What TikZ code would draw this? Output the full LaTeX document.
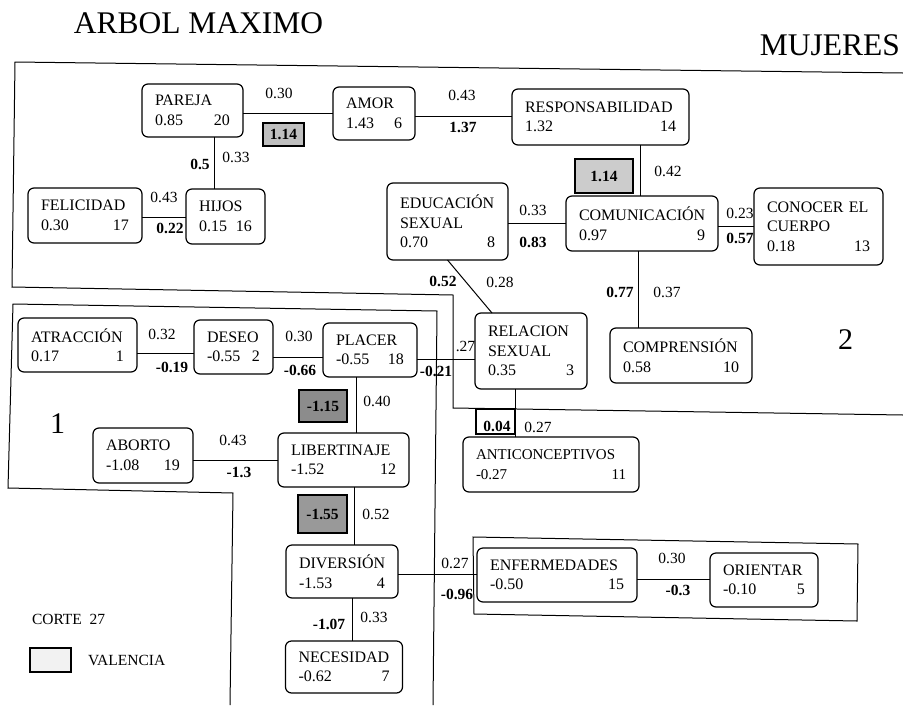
\documentclass[tikz,border=0pt]{standalone}
\usepackage{fontspec}
\setmainfont{Liberation Serif}
\begin{document}
\begin{tikzpicture}[x=1pt,y=-1pt,
  every node/.style={inner sep=0pt, outer sep=0pt},
  box/.style={draw, rounded corners=6pt, line width=1.2pt, inner xsep=13pt, inner ysep=0pt, align=left,
    font=\fontsize{16}{19.5}\selectfont},
  lab/.style={font=\fontsize{15.5}{18}\selectfont},
  blab/.style={font=\fontsize{15.5}{18}\selectfont\bfseries},
  val/.style={draw, line width=1.6pt, font=\fontsize{15.5}{18}\selectfont\bfseries},
  conn/.style={line width=1pt},
  region/.style={line width=1pt},
  big/.style={font=\fontsize{31.5}{36}\selectfont}]
\useasboundingbox (0,0) rectangle (903,705);
\fill[white] (0,0) rectangle (903,705);

% titles
\node[big] (t1) at (198.5,23) {ARBOL MAXIMO};
\node[big] (t2) at (830,45) {MUJERES};

% regions
\draw[region] (903,73) -- (15,62) -- (12,287) -- (453,295) -- (453,408) -- (903,415);
\draw[region] (433,705) -- (437,311) -- (13,304) -- (8,488) -- (233,493) -- (230,705);
\draw[region] (473,537) -- (858,544) -- (857,621) -- (474,614) -- cycle;
\node[font=\fontsize{30}{34}\selectfont] (r1) at (57.5,424) {1};
\node[font=\fontsize{30}{34}\selectfont] (r2) at (845.5,340) {2};

% nodes
\node[box, text width=75pt,  minimum height=53pt] (pareja)   at (192.5,110.5) {PAREJA\\0.85\hfill 20};
\node[box, text width=56pt,  minimum height=53pt] (amor)     at (374,113.5)   {AMOR\\1.43\hfill 6};
\node[box, text width=151pt, minimum height=56pt] (resp)     at (600.5,117)   {RESPONSABILIDAD\\1.32\hfill 14};
\node[box, text width=88pt,  minimum height=55pt] (felicidad) at (85,215.5)   {FELICIDAD\\0.30\hfill 17};
\node[box, text width=53pt,  minimum height=55pt] (hijos)    at (225.5,216.5) {HIJOS\\0.15\hfill 16};
\node[box, text width=95pt,  minimum height=77pt] (educ)     at (447.5,221.5) {EDUCACIÓN\\SEXUAL\\0.70\hfill 8\hspace*{11pt}};
\node[box, text width=126pt, minimum height=55pt] (comun)    at (642,223.5)   {COMUNICACIÓN\\0.97\hfill 9\hspace*{9pt}};
\node[box, text width=103pt, minimum height=77pt] (conocer)  at (818.5,226.5) {CONOCER EL\\CUERPO\\0.18\hfill 13};
\node[box, text width=86pt,  minimum height=76pt] (relacion) at (531,351)     {RELACION\\SEXUAL\\0.35\hfill 3\hspace*{7pt}};
\node[box, text width=116pt, minimum height=55pt] (compren)  at (681,355.5)   {COMPRENSIÓN\\0.58\hfill 10};
\node[box, text width=93pt,  minimum height=54pt] (atraccion) at (77.5,345)   {ATRACCIÓN\\0.17\hfill 1\hspace*{3pt}};
\node[box, text width=53pt,  minimum height=54pt] (deseo)    at (233.5,347)   {DESEO\\-0.55\hfill 2};
\node[box, text width=68pt,  minimum height=54pt] (placer)   at (370,350)     {PLACER\\-0.55\hfill 18};
\node[box, text width=74pt,  minimum height=55pt] (aborto)   at (143,455.5)   {ABORTO\\-1.08\hfill 19};
\node[box, text width=105pt, minimum height=54pt] (libert)   at (343.5,460)   {LIBERTINAJE\\-1.52\hfill 12};
\node[box, text width=86pt,  minimum height=53pt] (diversion) at (342,571.5)  {DIVERSIÓN\\-1.53\hfill 4};
\node[box, text width=91pt,  minimum height=52pt] (necesidad) at (344,667)    {NECESIDAD\\-0.62\hfill 7\hspace*{5pt}};
\node[box, text width=150pt, minimum height=55pt] (anticon)  at (551,464.5)   {\fontsize{15}{19.5}\selectfont ANTICONCEPTIVOS\\-0.27\hfill 11\hspace*{8pt}};
\node[box, text width=134pt, minimum height=54pt] (enferm)   at (557,575)     {ENFERMEDADES\\-0.50\hfill 15};
\node[box, text width=82pt,  minimum height=54pt] (orientar) at (764,580)     {ORIENTAR\\-0.10\hfill 5};

% helper coordinates for connector levels
\coordinate (y1) at (0,113);
\coordinate (y2) at (0,116);
\coordinate (y3) at (0,217);
\coordinate (y4) at (0,223);
\coordinate (y5) at (0,226);
\coordinate (y6) at (0,353);
\coordinate (y7) at (0,357);
\coordinate (y8) at (0,359);
\coordinate (y9) at (0,460);
\coordinate (y10) at (0,574);
\coordinate (y11) at (0,579);
\coordinate (x1) at (214,0);
\coordinate (x2) at (640,0);
\coordinate (x3) at (638,0);
\coordinate (x4) at (356,0);
\coordinate (x5) at (354,0);
\coordinate (x6) at (352,0);
\coordinate (x7) at (515,0);
\coordinate (x8) at (492,0);

% connectors
\draw[conn] (pareja.east |- y1) -- (amor.west |- y1);
\draw[conn] (amor.east |- y2) -- (resp.west |- y2);
\draw[conn] (felicidad.east |- y3) -- (hijos.west |- y3);
\draw[conn] (educ.east |- y4) -- (comun.west |- y4);
\draw[conn] (comun.east |- y5) -- (conocer.west |- y5);
\draw[conn] (atraccion.east |- y6) -- (deseo.west |- y6);
\draw[conn] (deseo.east |- y7) -- (placer.west |- y7);
\draw[conn] (placer.east |- y8) -- (relacion.west |- y8);
\draw[conn] (aborto.east |- y9) -- (libert.west |- y9);
\draw[conn] (diversion.east |- y10) -- (enferm.west |- y10);
\draw[conn] (enferm.east |- y11) -- (orientar.west |- y11);
\draw[conn] (pareja.south -| x1) -- (hijos.north -| x1);
\draw[conn] (resp.south -| x2) -- (comun.north -| x2);
\draw[conn] (comun.south -| x3) -- (compren.north -| x3);
\draw[conn] (placer.south -| x4) -- (libert.north -| x4);
\draw[conn] (libert.south -| x5) -- (diversion.north -| x5);
\draw[conn] (diversion.south -| x6) -- (necesidad.north -| x6);
\draw[conn] (relacion.south -| x7) -- (anticon.north -| x7);
\draw[conn] (educ.south) -- (relacion.north -| x8);

% valencia boxes
\node[val, fill=black!25, minimum width=41pt, minimum height=23pt] (v1) at (283.5,134.5) {1.14};
\node[val, fill=black!20, minimum width=58pt, minimum height=34pt] (v2) at (604,176) {1.14};
\node[val, fill=black!45, minimum width=48pt, minimum height=32pt] (v3) at (323,406) {-1.15};
\node[val, fill=black!40, minimum width=49pt, minimum height=38pt] (v4) at (322.5,514) {-1.55};
\node[draw, line width=1.3pt, minimum width=39pt, minimum height=25pt] (v5) at (495.5,421.5) {};
\node[blab] (l04) at (497,426) {0.04};

% edge labels
\node[lab]  (a1) at (279,93) {0.30};
\node[lab]  (a2) at (462,95) {0.43};
\node[blab] (a3) at (463,127) {1.37};
\node[blab] (a4) at (200,164) {0.5};
\node[lab]  (a5) at (236,157) {0.33};
\node[lab]  (a6) at (164,197) {0.43};
\node[blab] (a7) at (170,228) {0.22};
\node[lab]  (a8) at (668,171) {0.42};
\node[lab]  (a9) at (533,210) {0.33};
\node[blab] (a10) at (533,242) {0.83};
\node[lab]  (a11) at (740,213) {0.23};
\node[blab] (a12) at (740,238) {0.57};
\node[blab] (a13) at (443,281) {0.52};
\node[lab]  (a14) at (500,282) {0.28};
\node[blab] (a15) at (620,292) {0.77};
\node[lab]  (a16) at (667,292) {0.37};
\node[lab]  (a17) at (162,334) {0.32};
\node[blab] (a18) at (172,367) {-0.19};
\node[lab]  (a19) at (299,336) {0.30};
\node[blab] (a20) at (300,370) {-0.66};
\node[lab]  (a21) at (465.5,346) {.27};
\node[blab] (a22) at (436,371) {-0.21};
\node[lab]  (a23) at (377,401) {0.40};
\node[lab]  (a24) at (233,440) {0.43};
\node[blab] (a25) at (239,472) {-1.3};
\node[lab]  (a26) at (376,514) {0.52};
\node[blab] (a27) at (329,624) {-1.07};
\node[lab]  (a28) at (374,617) {0.33};
\node[lab]  (a29) at (455,563) {0.27};
\node[blab] (a30) at (457,594) {-0.96};
\node[lab]  (a31) at (672,558) {0.30};
\node[blab] (a32) at (678,590) {-0.3};
\node[lab]  (a33) at (538,427) {0.27};

% legend
\node[lab, anchor=west] (corte) at (32,619) {CORTE\ \ 27};
\node[draw, line width=1.2pt, fill=black!5, minimum width=41pt, minimum height=24pt] (leg) at (50.5,660) {};
\node[lab, anchor=west] (legt) at (88,660) {VALENCIA};
\end{tikzpicture}
\end{document}
